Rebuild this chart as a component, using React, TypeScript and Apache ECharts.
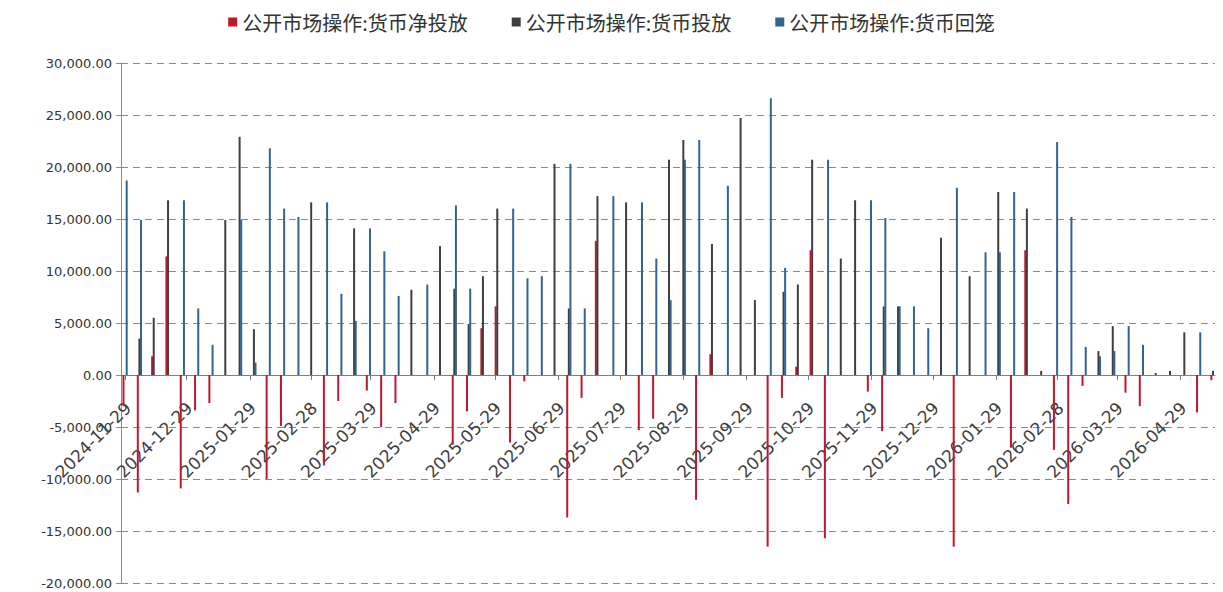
import React, { useEffect, useRef } from "react";
import * as echarts from "echarts";

// Weekly observation dates (Fridays)
const weeks: string[] = [
  "2024-11-29", "2024-12-06", "2024-12-13", "2024-12-20", "2024-12-27",
  "2025-01-03", "2025-01-10", "2025-01-17", "2025-01-24", "2025-01-31",
  "2025-02-07", "2025-02-14", "2025-02-21", "2025-02-28",
  "2025-03-07", "2025-03-14", "2025-03-21", "2025-03-28",
  "2025-04-04", "2025-04-11", "2025-04-18", "2025-04-25",
  "2025-05-02", "2025-05-09", "2025-05-16", "2025-05-23", "2025-05-30",
  "2025-06-06", "2025-06-13", "2025-06-20", "2025-06-27",
  "2025-07-04", "2025-07-11", "2025-07-18", "2025-07-25",
  "2025-08-01", "2025-08-08", "2025-08-15", "2025-08-22", "2025-08-29",
  "2025-09-05", "2025-09-12", "2025-09-19", "2025-09-26",
  "2025-10-03", "2025-10-10", "2025-10-17", "2025-10-24", "2025-10-31",
  "2025-11-07", "2025-11-14", "2025-11-21", "2025-11-28",
  "2025-12-05", "2025-12-12", "2025-12-19", "2025-12-26",
  "2026-01-02", "2026-01-09", "2026-01-16", "2026-01-23", "2026-01-30",
  "2026-02-06", "2026-02-13", "2026-02-20", "2026-02-27",
  "2026-03-06", "2026-03-13", "2026-03-20", "2026-03-27",
  "2026-04-03", "2026-04-10", "2026-04-17", "2026-04-24",
  "2026-05-01", "2026-05-08", "2026-05-15",
];

// 公开市场操作:货币净投放
const netInjection: (number | null)[] = [
  -3000, -11300, 1800, 11400, -10900, -3400, -2700, null, null, null,
  -10000, -4900, null, null, -8700, -2500, null, -1500, -5000, -2700,
  null, null, null, -6700, -3500, 4500, 6600, -6500, -600, null,
  null, -13700, -2200, 12900, null, null, -5300, -4200, null, null,
  -12000, 2000, null, null, null, -16500, -2200, 800, 12000, -15700,
  null, null, -1600, -5400, null, null, null, null, -16500, null,
  null, null, -7000, 12000, null, -7200, -12400, -1050, null, null,
  -1700, -3000, null, null, null, -3600, -500,
];

// 公开市场操作:货币投放
const injection: (number | null)[] = [
  null, 3500, 5500, 16800, null, null, null, 14900, 22900, 4400,
  null, null, null, 16600, null, null, 14100, null, null, null,
  8200, null, 12400, 8300, 4900, 9500, 16000, null, null, null,
  20300, 6400, null, 17200, null, 16600, null, null, 20700, 22600,
  null, 12600, null, 24700, 7200, null, 8000, 8700, 20700, null,
  11200, 16800, null, 6600, 6600, null, null, 13200, null, 9500,
  null, 17600, null, 16000, 400, null, null, null, 2300, 4700,
  null, null, 200, 400, 4100, null, 400,
];

// 公开市场操作:货币回笼
const withdrawal: (number | null)[] = [
  18700, 14900, null, null, 16800, 6400, 2900, null, 14900, 1200,
  21800, 16000, 15200, null, 16600, 7800, 5200, 14100, 11900, 7600,
  null, 8700, null, 16300, 8300, null, null, 16000, 9300, 9500,
  null, 20300, 6400, null, 17200, null, 16600, 11200, 7200, 20700,
  22600, null, 18200, null, null, 26600, 10300, null, null, 20700,
  null, null, 16800, 15100, 6600, 6600, 4500, null, 18000, null,
  11800, 11800, 17600, null, null, 22400, 15200, 2700, 1800, 2300,
  4700, 2900, null, null, null, 4100, null,
];

const tickDates: string[] = [
  "2024-11-29", "2024-12-29", "2025-01-29", "2025-02-28", "2025-03-29",
  "2025-04-29", "2025-05-29", "2025-06-29", "2025-07-29", "2025-08-29",
  "2025-09-29", "2025-10-29", "2025-11-29", "2025-12-29", "2026-01-29",
  "2026-02-28", "2026-03-29", "2026-04-29",
];

const seriesNames = [
  "公开市场操作:货币净投放",
  "公开市场操作:货币投放",
  "公开市场操作:货币回笼",
];
const seriesColors = ["#c0172d", "#3f3f3f", "#33638f"];

const DAY = 86400000;
// rotated labels sit slightly to the right of their tick, as in the source
const LABEL_SHIFT_DAYS = 1.5;

function ts(s: string): number {
  const [y, m, d] = s.split("-").map(Number);
  return Date.UTC(y, m - 1, d);
}

function pad(n: number): string {
  return n < 10 ? "0" + n : "" + n;
}

function fmtDate(v: number): string {
  const d = new Date(Math.round(v / DAY) * DAY);
  return d.getUTCFullYear() + "-" + pad(d.getUTCMonth() + 1) + "-" + pad(d.getUTCDate());
}

const GRID_TOP = 63;
const GRID_BOTTOM = 9;
const CHART_H = 592;
const Y_MIN = -20000;
const Y_MAX = 30000;

export default function App() {
  const ref = useRef<HTMLDivElement>(null);

  useEffect(() => {
    if (!ref.current) return;
    const chart = echarts.init(ref.current, undefined, { renderer: "svg" });
    const valueSets = [netInjection, injection, withdrawal];
    const series = valueSets.map((vals, si) => ({
      name: seriesNames[si],
      type: "bar",
      barWidth: 2,
      barGap: "-20%",
      itemStyle: { color: seriesColors[si] },
      data: weeks.map((w, i) => [ts(w), vals[i] == null ? "-" : vals[i]]),
    }));
    const tickValues = tickDates.map(ts);
    const labelValues = tickValues.map((t) => t + LABEL_SHIFT_DAYS * DAY);
    const plotH = CHART_H - GRID_TOP - GRID_BOTTOM;
    const zeroOffset = -(plotH * (0 - Y_MIN)) / (Y_MAX - Y_MIN);

    chart.setOption({
      animation: false,
      backgroundColor: "#ffffff",
      legend: {
        top: 7,
        left: "center",
        icon: "rect",
        itemWidth: 9,
        itemHeight: 9,
        itemGap: 44,
        textStyle: {
          fontSize: 20,
          color: "#333333",
          fontFamily: "Noto Sans CJK SC",
        },
        data: seriesNames,
      },
      grid: { left: 121, right: 8, top: GRID_TOP, bottom: GRID_BOTTOM, containLabel: false },
      xAxis: {
        type: "value",
        min: ts("2024-11-27"),
        max: ts("2026-05-16"),
        offset: zeroOffset,
        axisLine: { show: true, onZero: false, lineStyle: { color: "#7f7f7f", width: 1 } },
        axisTick: {
          show: true,
          length: 5,
          customValues: tickValues,
          lineStyle: { color: "#7f7f7f" },
        },
        axisLabel: {
          customValues: labelValues,
          rotate: 45,
          margin: 30,
          fontSize: 17,
          color: "#404040",
          fontFamily: "DejaVu Sans",
          hideOverlap: false,
          showMinLabel: true,
          showMaxLabel: true,
          formatter: (v: number) => fmtDate(v - LABEL_SHIFT_DAYS * DAY),
        },
        splitLine: { show: false },
      },
      yAxis: {
        type: "value",
        min: Y_MIN,
        max: Y_MAX,
        interval: 5000,
        axisLine: { show: true, lineStyle: { color: "#8c8c8c", width: 1 } },
        axisTick: { show: true, length: 5, lineStyle: { color: "#8c8c8c" } },
        axisLabel: {
          margin: 9,
          fontSize: 13,
          color: "#333333",
          fontFamily: "DejaVu Sans",
          formatter: (v: number) =>
            v.toLocaleString("en-US", { minimumFractionDigits: 2, maximumFractionDigits: 2 }),
        },
        splitLine: {
          show: true,
          lineStyle: { color: "#8a8a8a", width: 1, type: [7, 5] },
        },
      },
      series,
    });
    return () => chart.dispose();
  }, []);

  return (
    <div
      ref={ref}
      style={{ position: "absolute", left: 0, top: 0, width: 1223, height: 592, background: "#fff" }}
    />
  );
}
